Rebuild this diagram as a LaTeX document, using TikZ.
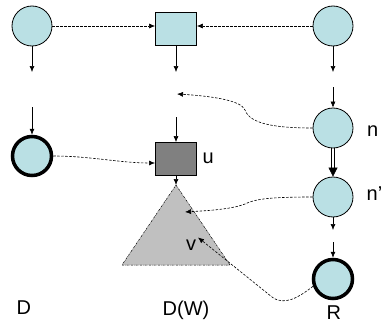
\documentclass[tikz,border=0pt]{standalone}
\usepackage{fontspec}
\setmainfont{Liberation Sans}
\usetikzlibrary{arrows.meta, positioning}
\definecolor{vertfill}{HTML}{BAE0E4}
\definecolor{ufill}{HTML}{808080}
\definecolor{trifill}{HTML}{C0C0C0}

\begin{document}
\begin{tikzpicture}[
  x=1pt, y=-1pt,
  font=\fontsize{20}{24}\selectfont,
  vert/.style={circle, draw, line width=0.8pt, fill=vertfill, minimum size=40pt, inner sep=0pt},
  bigvert/.style={vert, line width=3.5pt, minimum size=39pt},
  block/.style={rectangle, draw, line width=0.8pt, fill=vertfill, minimum width=41pt, minimum height=33pt, inner sep=0pt},
  arr/.style={-{Latex[length=6pt,width=5pt]}, line width=0.6pt},
  darr/.style={arr, dash pattern=on 2.5pt off 1.5pt},
  lbl/.style={inner sep=0pt, anchor=base west},
]
\useasboundingbox (0,0) rectangle (383,324);

% top row
\node[vert] (d1) at (32,26) {};
\node[block] (w1) at (176,29) {};
\node[vert] (r1) at (333,26) {};

% second row and right column
\node[bigvert] (d2) at (32,156) {};
\node[block, fill=ufill] (u) at (176,159) {};
\node[vert] (n) at (333,128) {};
\node[vert] (n2) at (333,197) {};
\node[bigvert] (r2) at (333,279) {};

% subtree D(W)
\coordinate (tritop) at (176,185);
\coordinate (triright) at (230,265);
\coordinate (trileft) at (122,265);
\draw[fill=trifill, line width=0.5pt, dash pattern=on 2pt off 1pt on 0.5pt off 1pt]
  (tritop) -- (triright) -- (trileft) -- cycle;

% labels
\node[lbl] (nlbl) at (367,136) {n};
\node[lbl] (n2lbl) at (366.5,200) {n'};
\node[lbl] (ulbl) at (202.5,163) {u};
\node[lbl, outer sep=2pt] (v) at (184,250) {v};
\node[lbl] (dlbl) at (16.5,314) {D};
\node[lbl] (dwlbl) at (162.5,315) {D(W)};
\node[lbl] (rlbl) at (326.5,319) {R};

% free ends
\coordinate (d1end) at (32,72);
\coordinate (w1end) at (176,72);
\coordinate (r1end) at (333,72);
\coordinate (d2start) at (32,107);
\coordinate (ustart) at (176,117);
\coordinate (nstart) at (333,87);
\coordinate (n2end) at (333,230);
\coordinate (r2start) at (333,242);
\coordinate (wmid) at (177,94);
\coordinate (uin) at (155,163);
\coordinate (triin) at (185,212);

\draw[arr] (d1) -- (d1end);
\draw[arr] (w1) -- (w1end);
\draw[arr] (r1) -- (r1end);
\draw[arr] (d2start) -- (d2);
\draw[arr] (ustart) -- (u);
\draw[arr] (nstart) -- (n);
\draw[arr] (u) -- (tritop);
\draw[arr] (n2) -- (n2end);
\draw[arr] (r2start) -- (r2);
% double edge n -> n'
\draw[line width=0.7pt, shorten >=6pt, transform canvas={xshift=1.2pt}] (n) -- (n2);
\draw[line width=0.7pt, shorten >=6pt, transform canvas={xshift=-1.2pt}] (n) -- (n2);
\draw[-{Triangle[length=9pt,width=9pt]}, line width=0.6pt, shorten <=20pt] (n) -- (n2);

\draw[darr] (d1) -- (d1 -| w1.west);
\draw[darr] (r1) -- (r1 -| w1.east);
\draw[darr] (n.west) .. controls (280,128) and (250,125) .. (245,110)
  .. controls (241,100) and (210,96) .. (wmid);
\draw[darr] (d2.east) .. controls (90,156) and (120,163) .. (uin);
\draw[darr] (n2.west) .. controls (270,197) and (255,199) .. (245,204)
  .. controls (230,210) and (200,211) .. (triin);
\draw[darr] (r2.200) .. controls (298,298) and (284,306) .. (272,297) -- (v.north east);
\end{tikzpicture}
\end{document}
